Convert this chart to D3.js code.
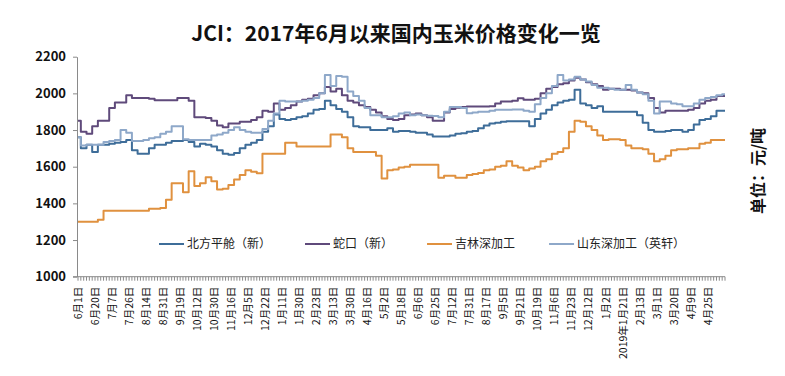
<!DOCTYPE html>
<html>
<head>
<meta charset="utf-8">
<script src="https://cdn.jsdelivr.net/npm/d3@7/dist/d3.min.js"></script>
<style>
  body { margin: 0; background: #fff; }
  svg { display: block; font-family: "Noto Sans CJK SC", "Noto Sans", sans-serif; }
</style>
</head>
<body>
<svg id="chart" width="785" height="376"></svg>
<script>
// 横轴日期标签（每3个数据点一个）
const dateLabels = [
  '6月1日', '6月20日', '7月7日', '7月26日', '8月14日', '8月31日', '9月19日',
  '10月12日', '10月30日', '11月16日', '12月5日', '12月22日', '1月11日', '1月30日',
  '2月23日', '3月13日', '3月30日', '4月16日', '5月2日', '5月18日', '6月6日',
  '6月25日', '7月12日', '7月31日', '8月17日', '9月5日', '9月21日', '10月19日',
  '11月6日', '11月23日', '12月12日', '1月2日', '2019年1月21日', '2月13日',
  '3月1日', '3月20日', '4月9日', '4月25日'
];
const labelStep = 3;

const seriesNames = ['北方平舱（新）', '蛇口（新）', '吉林深加工', '山东深加工（英轩）'];
const seriesColors = ['#3E6D99', '#5F4A7B', '#E0913F', '#8EA8C9'];

const beifang = [
  1760, 1700, 1720, 1680, 1720, 1720, 1725, 1730, 1735, 1745,
  1690, 1670, 1670, 1700, 1720, 1720, 1730, 1740, 1740, 1745,
  1735, 1710, 1725, 1720, 1710, 1690, 1670, 1665, 1675, 1700,
  1720, 1730, 1745, 1790, 1820, 1885, 1860, 1855, 1860, 1870,
  1875, 1890, 1910, 1915, 1960, 1935, 1915, 1900, 1870, 1820,
  1815, 1815, 1800, 1800, 1800, 1810, 1790, 1795, 1795, 1790,
  1785, 1785, 1775, 1765, 1765, 1765, 1770, 1780, 1782, 1790,
  1795, 1810, 1825, 1835, 1840, 1845, 1848, 1848, 1848, 1848,
  1820, 1860, 1890, 1910, 1935, 1950, 1960, 1965, 2020, 1945,
  1935, 1920, 1930, 1900, 1900, 1900, 1900, 1900, 1900, 1880,
  1840, 1800, 1790, 1790, 1795, 1800, 1800, 1790, 1800, 1830,
  1855, 1860, 1875, 1905, 1905
];
const shekou = [
  1850, 1790, 1780, 1820, 1850, 1850, 1920, 1950, 1950, 1990,
  1975, 1975, 1975, 1970, 1962, 1962, 1962, 1962, 1975, 1975,
  1960, 1870, 1870, 1865, 1850, 1825, 1815, 1835, 1835, 1845,
  1845, 1855, 1870, 1905, 1900, 1945, 1910, 1920, 1935, 1955,
  1965, 1970, 1990, 2000, 2035, 2010, 2025, 1990, 1960, 1950,
  1935, 1925, 1910, 1895, 1875, 1860, 1855, 1860, 1880, 1885,
  1890, 1880, 1870, 1850, 1850, 1895, 1915, 1922, 1925, 1928,
  1928, 1928, 1928, 1930, 1945, 1955, 1955, 1960, 1973, 1965,
  1965, 1970, 2000, 2025, 2035, 2050, 2055, 2070, 2085, 2075,
  2060, 2050, 2040, 2020, 2025, 2025, 2020, 2020, 2015, 2005,
  2000, 1975, 1920, 1895, 1905, 1905, 1905, 1905, 1910, 1920,
  1945, 1960, 1965, 1985, 1985
];
const jilin = [
  1300, 1300, 1300, 1300, 1310, 1360, 1360, 1360, 1360, 1360,
  1360, 1360, 1360, 1370, 1370, 1375, 1420, 1510, 1510, 1460,
  1575, 1495, 1510, 1542, 1520, 1475, 1480, 1500, 1530, 1555,
  1580, 1573, 1564, 1670, 1670, 1670, 1670, 1730, 1730, 1710,
  1710, 1710, 1710, 1710, 1710, 1775, 1775, 1760, 1700, 1680,
  1680, 1680, 1680, 1660, 1535, 1580, 1585, 1595, 1600, 1610,
  1610, 1610, 1610, 1610, 1540, 1550, 1550, 1540, 1540, 1555,
  1560, 1565, 1580, 1585, 1600, 1605, 1630, 1605, 1595, 1580,
  1590, 1600, 1630, 1640, 1670, 1680, 1700, 1790, 1850, 1845,
  1820, 1800, 1770, 1745, 1750, 1750, 1745, 1715, 1700, 1700,
  1695, 1670, 1630, 1640, 1660, 1690, 1695, 1695, 1700, 1700,
  1725, 1730, 1745, 1745, 1745
];
const shandong = [
  1760, 1715, 1720, 1720, 1720, 1735, 1740, 1745, 1800, 1785,
  1740, 1740, 1745, 1755, 1760, 1780, 1790, 1820, 1820, 1750,
  1745, 1745, 1745, 1745, 1770, 1775, 1785, 1800, 1815, 1800,
  1790, 1785, 1785, 1805, 1850, 1890, 1960, 1955, 1955, 1955,
  1960, 1965, 1975, 2000, 2100, 2040, 2095, 2090, 2010, 1985,
  1960, 1920, 1880, 1880, 1870, 1870, 1875, 1890, 1895, 1880,
  1885, 1880, 1878, 1876, 1870, 1900, 1925, 1925, 1920, 1892,
  1895, 1900, 1900, 1905, 1910, 1910, 1910, 1912, 1912, 1905,
  1900, 1940, 1975, 2000, 2040, 2100, 2070, 2075, 2090, 2075,
  2065, 2045, 2030, 2030, 2025, 2020, 2020, 2045, 2020, 2005,
  1995, 1960, 1890, 1955, 1955, 1945, 1940, 1930, 1930, 1945,
  1965, 1975, 1980, 1990, 1995
];

const yTicks = [1000, 1200, 1400, 1600, 1800, 2000, 2200];
const titleText = 'JCI：2017年6月以来国内玉米价格变化一览';
const unitText = '单位：元/吨';

class PriceLineChart {
  constructor({ width, height, margin }, rootNode) {
    this._width = width;
    this._height = height;
    this._margin = margin;
    this._root = rootNode;
    this._series = [beifang, shekou, jilin, shandong];
    this._scaleX = null;
    this._scaleY = null;
    return this;
  }

  render() {
    this._root.selectChildren().remove();
    this.#scaleInit();
    this.#renderTitle();
    this.#renderAxis();
    this.#renderLines();
    this.#renderLegend();
    return this;
  }

  #scaleInit() {
    const { _width, _height } = this;
    const { top, right, bottom, left } = this._margin;
    const n = this._series[0].length;
    this._scaleX = d3.scaleLinear([0, n - 1], [left, _width - right]);
    this._scaleY = d3.scaleLinear([yTicks[0], yTicks[yTicks.length - 1]], [_height - bottom, top]);
  }

  #renderTitle() {
    const { _root } = this;
    _root.append('text')
      .attr('x', 396)
      .attr('y', 41)
      .attr('text-anchor', 'middle')
      .attr('font-size', 21)
      .attr('font-weight', 700)
      .attr('fill', '#111')
      .text(titleText);

    // 右侧单位
    _root.append('text')
      .attr('transform', 'translate(758, 171) rotate(-90)')
      .attr('text-anchor', 'middle')
      .attr('dy', '0.35em')
      .attr('font-size', 16)
      .attr('font-weight', 700)
      .attr('fill', '#111')
      .text(unitText);
  }

  #renderAxis() {
    const { _root, _scaleX, _scaleY, _series } = this;
    const { left } = this._margin;
    const axisColor = '#8a8a8a';
    const y0 = _scaleY.range()[0];
    const n = _series[0].length;

    _root.append('g')
      .attr('transform', `translate(${left - 1}, 0)`)
      .call(d3.axisLeft(_scaleY)
        .tickValues(yTicks)
        .tickFormat(d3.format('d'))
        .tickSize(4)
        .tickSizeOuter(0)
        .tickPadding(7))
      .call(g => g.select('.domain').attr('stroke', axisColor))
      .call(g => g.selectAll('.tick line').attr('stroke', axisColor))
      .call(g => g.selectAll('.tick text')
        .attr('font-size', 13)
        .attr('font-weight', 700)
        .attr('fill', '#111')
        .attr('font-family', '"Noto Sans CJK SC", sans-serif'));

    const xg = _root.append('g').attr('class', 'x-axis');
    xg.append('line')
      .attr('x1', left - 5)
      .attr('x2', _scaleX.range()[1])
      .attr('y1', y0)
      .attr('y2', y0)
      .attr('stroke', axisColor);
    xg.selectAll('.x-tick')
      .data(d3.range(0, n - 0.5, 0.5))
      .join('line')
      .attr('class', 'x-tick')
      .attr('x1', d => _scaleX(d))
      .attr('x2', d => _scaleX(d))
      .attr('y1', y0)
      .attr('y2', y0 + 4)
      .attr('stroke', axisColor);
    xg.selectAll('.x-label')
      .data(dateLabels)
      .join('text')
      .attr('class', 'x-label')
      .attr('transform', (_, i) => `translate(${_scaleX(i * labelStep)}, ${y0 + 10}) rotate(-90)`)
      .attr('text-anchor', 'end')
      .attr('dy', '0.35em')
      .attr('font-size', 10.5)
      .attr('fill', '#111')
      .text(d => d);
  }

  #renderLines() {
    const { _root, _scaleX, _scaleY, _series } = this;
    const line = d3.line()
      .x((_, i) => _scaleX(i))
      .y(d => _scaleY(d))
      .curve(d3.curveStep);
    _root.append('g')
      .selectAll('path')
      .data(_series)
      .join('path')
      .attr('fill', 'none')
      .attr('stroke', (_, i) => seriesColors[i])
      .attr('stroke-width', 2)
      .attr('stroke-linejoin', 'round')
      .attr('d', line);
  }

  #renderLegend() {
    const { _root } = this;
    const legendY = 244, lineW = 25, gap = 3, spacing = 34;
    const g = _root.append('g').attr('class', 'legend');
    let x = 159;
    seriesNames.forEach((name, i) => {
      g.append('line')
        .attr('x1', x).attr('x2', x + lineW)
        .attr('y1', legendY).attr('y2', legendY)
        .attr('stroke', seriesColors[i])
        .attr('stroke-width', 2);
      const t = g.append('text')
        .attr('x', x + lineW + gap)
        .attr('y', legendY)
        .attr('dy', '0.35em')
        .attr('font-size', 12)
        .attr('fill', '#222')
        .text(name);
      x += lineW + gap + t.node().getComputedTextLength() + spacing;
    });
  }
}

new PriceLineChart({
  width: 785,
  height: 376,
  margin: { top: 56.7, right: 60, bottom: 99.3, left: 78 }
}, d3.select('#chart')).render();
</script>
</body>
</html>
